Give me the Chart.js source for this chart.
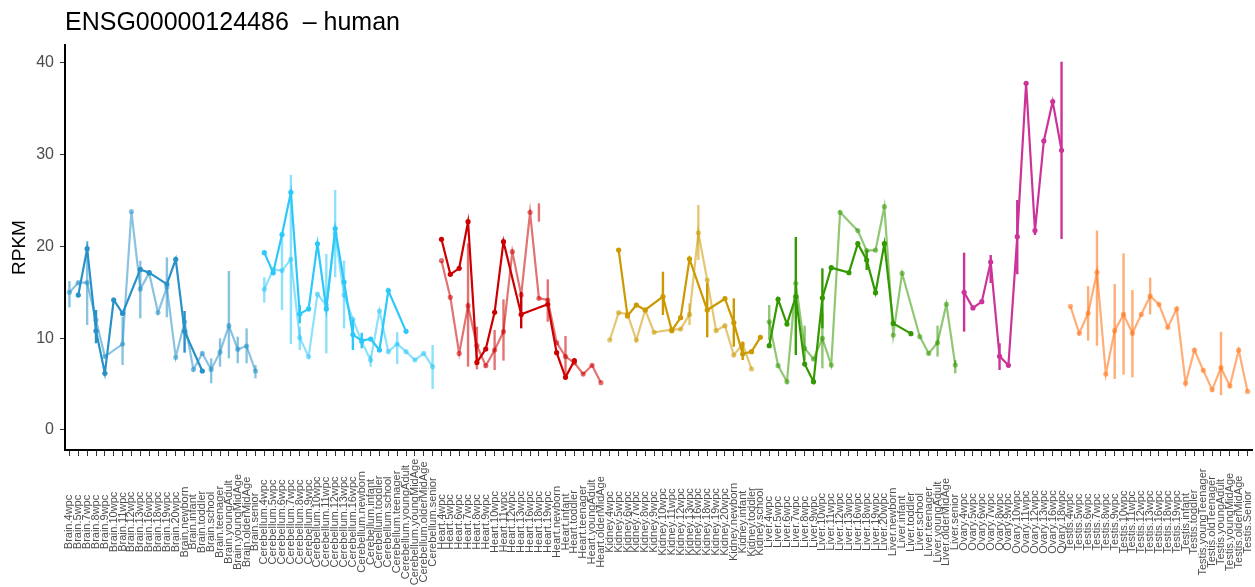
<!DOCTYPE html>
<html>
<head>
<meta charset="utf-8">
<script src="https://cdn.jsdelivr.net/npm/chart.js@4.4.1/dist/chart.umd.min.js"></script>
<style>
  html, body { margin: 0; padding: 0; background: #ffffff; }
  #wrap { width: 1255px; height: 587px; position: relative; }
</style>
</head>
<body>
<div id="wrap"><canvas id="chart"></canvas></div>
<script>
// ---- gene expression (RPKM) across developmental stages, per organ ----
const chartTitle = 'ENSG00000124486  \u2013 human';
const yTicks = [0, 10, 20, 30, 40];

const brainStages = ['4wpc','5wpc','7wpc','8wpc','9wpc','10wpc','11wpc','12wpc','13wpc','16wpc','18wpc','19wpc','20wpc','newborn','infant','toddler','school','teenager','youngAdult','youngMidAge','olderMidAge','senior'];
const brainRepA = [null, 14.7, 19.76, 10.8, 6.18, 14.17, 12.7, null, 17.5, 17.15, null, 15.9, 18.6, 10.75, null, 6.43, null, null, null, null, null, null];
const brainRepB = [15.0, 16.06, 16.06, 12.0, 8.0, null, 9.37, 23.8, 15.37, 17.1, 12.8, 15.55, 7.92, 11.8, 6.6, 8.35, 6.6, 8.48, 11.37, 8.8, 9.15, 6.43];
const brainErrA = [[3, 9.45, 13.08], [13, 8.43, 12.97]];
const brainErrB = [[0, 13.37, 16.24], [2, 11.44, 20.6], [6, 7.08, 12.35], [8, 12.17, 18.45], [11, 12.28, 18.82], [16, 5.09, 7.81], [17, 6.9, 9.99], [18, 7.81, 17.33], [19, 7.27, 10.17], [20, 7.27, 11.08], [21, 5.63, 7.08]];

const cerebellumStages = ['4wpc','5wpc','6wpc','7wpc','8wpc','9wpc','10wpc','11wpc','12wpc','13wpc','16wpc','newborn','infant','toddler','school','teenager','youngAdult','youngMidAge','olderMidAge','senior'];
const cerebellumRepA = [19.33, 17.15, 21.3, 25.9, 12.64, 13.2, 20.3, 13.2, 21.94, 16.13, 10.4, 9.74, 9.92, 8.72, 15.19, null, 10.75, null, null, null];
const cerebellumRepB = [15.33, 17.5, 17.37, 18.6, 10.06, 8.0, 14.8, 13.6, 21.4, 14.7, 12.06, 9.6, 7.63, 12.97, 8.54, 9.37, 8.54, 7.63, 8.35, 6.9];
const cerebellumErrA = [[4, 11.63, 13.62], [10, 8.72, 12.06], [11, 8.9, 10.6]];
const cerebellumErrB = [[0, 13.88, 16.64], [2, 13.08, 21.44], [3, 9.37, 27.8], [4, 8.72, 11.26], [7, 8.35, 19.18], [8, 16.64, 26.16], [9, 11.08, 18.45], [12, 6.9, 8.17], [15, 7.19, 10.65], [19, 4.47, 9.26]];

const heartStages = ['4wpc','5wpc','6wpc','7wpc','8wpc','9wpc','10wpc','11wpc','12wpc','13wpc','16wpc','18wpc','19wpc','newborn','infant','toddler','teenager','youngAdult','olderMidAge'];
const heartRepA = [20.78, 16.97, 17.62, 22.7, 7.37, 8.83, 12.83, 20.53, null, 12.6, null, null, 13.7, 8.43, 5.74, 7.56, null, null, null];
const heartRepB = [18.45, 14.46, 8.35, 13.55, 9.19, 7.01, 8.72, 10.72, 19.43, 14.7, 23.72, 14.35, 14.17, 9.52, 8.0, 7.33, 6.1, 7.05, 5.16];
const heartErrA = [[9, 11.08, 15.07]];
const heartErrB = [[3, 6.9, 20.35], [4, 6.61, 11.26], [6, 6.54, 10.9], [7, 7.56, 14.24], [11, 22.7, 24.7], [12, 11.8, 16.42], [14, 5.81, 10.24]];

const kidneyStages = ['4wpc','5wpc','6wpc','7wpc','8wpc','9wpc','10wpc','11wpc','12wpc','13wpc','16wpc','18wpc','19wpc','20wpc','newborn','infant','toddler','school'];
const kidneyRepA = [null, 19.62, 12.43, 13.62, 13.08, null, 14.53, 10.83, 12.24, 18.64, null, 13.08, null, 14.31, 11.7, 8.28, 8.54, 10.1];
const kidneyRepB = [9.81, 12.79, 12.64, 9.81, 13.08, 10.65, null, 10.94, 11.0, 12.6, 21.5, 16.35, 10.83, 11.37, 8.17, 9.37, 6.65, null];
const kidneyErrA = [[6, 12.53, 17.25], [11, 10.1, 16.05], [14, 9.08, 14.35], [15, 7.63, 9.63]];
const kidneyErrB = [[9, 11.44, 13.81], [10, 18.53, 24.52]];

const liverStages = ['4wpc','5wpc','6wpc','7wpc','8wpc','9wpc','10wpc','11wpc','12wpc','13wpc','16wpc','18wpc','19wpc','20wpc','newborn','infant','toddler','school','teenager','youngAdult','olderMidAge','senior'];
const liverRepA = [9.19, 14.24, 11.55, 14.53, 7.19, 5.27, 14.39, 17.69, null, 17.15, 20.31, 18.53, 14.97, 20.31, 11.62, null, 10.5, null, null, null, null, null];
const liverRepB = [11.8, 7.01, 5.27, 15.99, 8.9, 7.74, 9.99, 7.08, 23.72, null, 21.73, 19.54, 19.6, 24.34, 10.35, 17.08, null, 10.17, 8.35, 9.52, 13.7, 7.08];
const liverErrA = [[3, 8.17, 21.04], [6, 11.08, 17.62], [11, 17.44, 19.62]];
const liverErrB = [[0, 9.81, 13.62], [4, 7.63, 11.37], [6, 6.72, 12.72], [19, 8.0, 11.37], [21, 6.18, 7.63]];

const ovaryStages = ['4wpc','5wpc','6wpc','7wpc','8wpc','9wpc','10wpc','11wpc','12wpc','13wpc','16wpc','18wpc'];
const ovaryRepA = [15.0, 13.3, 13.99, 18.31, 8.03, 7.05, 21.07, 37.79, 21.73, 31.5, 35.79, 30.48];
const ovaryErrA = [[0, 10.72, 19.33], [3, 16.02, 19.07], [4, 6.54, 9.45], [6, 16.97, 25.07], [8, 21.25, 21.98], [11, 20.82, 40.14]];

const testisStages = ['4wpc','5wpc','6wpc','7wpc','8wpc','9wpc','10wpc','11wpc','12wpc','13wpc','16wpc','18wpc','19wpc','infant','toddler','youngTeenager','oldTeenager','youngAdult','youngMidAge','olderMidAge','Senior'];
const testisRepB = [13.48, 10.54, 12.72, 17.19, 6.1, 10.83, 12.6, 10.54, 12.6, 14.6, 13.7, 11.2, 13.2, 5.1, 8.7, 6.5, 4.4, 6.8, 4.8, 8.7, 4.2];
const testisErrB = [[2, 9.74, 15.69], [3, 9.19, 21.73], [5, 5.56, 15.91], [6, 6.03, 19.26], [7, 5.74, 15.26], [9, 12.6, 16.6], [17, 3.8, 10.7]];

// organ colours: full tone for one replicate, translucent tone for the other
const organs = [
  { name: 'Brain',      stages: brainStages,      rgb: '40,145,200', reps: [[brainRepB, brainErrB, 0.55], [brainRepA, brainErrA, 1]] },
  { name: 'Cerebellum', stages: cerebellumStages, rgb: '45,200,250', reps: [[cerebellumRepB, cerebellumErrB, 0.55], [cerebellumRepA, cerebellumErrA, 1]] },
  { name: 'Heart',      stages: heartStages,      rgb: '204,0,0',    reps: [[heartRepB, heartErrB, 0.55], [heartRepA, heartErrA, 1]] },
  { name: 'Kidney',     stages: kidneyStages,     rgb: '204,153,0',  reps: [[kidneyRepB, kidneyErrB, 0.55], [kidneyRepA, kidneyErrA, 1]] },
  { name: 'Liver',      stages: liverStages,      rgb: '51,153,0',   reps: [[liverRepB, liverErrB, 0.55], [liverRepA, liverErrA, 1]] },
  { name: 'Ovary',      stages: ovaryStages,      rgb: '204,51,153', reps: [[ovaryRepA, ovaryErrA, 1]] },
  { name: 'Testis',     stages: testisStages,     rgb: '255,120,30', reps: [[testisRepB, testisErrB, 0.6]] }
];

const labels = [];
const datasets = [];
organs.forEach(org => {
  const offset = labels.length;
  org.stages.forEach(s => labels.push(org.name + '.' + s));
  org.reps.forEach(([vals, errs, alpha]) => {
    const color = 'rgba(' + org.rgb + ',' + alpha + ')';
    datasets.push({ offset, vals, errs, color });
  });
});
const total = labels.length;
const chartDatasets = datasets.map(d => {
  const data = new Array(total).fill(null);
  d.vals.forEach((v, j) => { data[d.offset + j] = v; });
  return {
    data,
    errorBars: d.errs,
    offset: d.offset,
    borderColor: d.color,
    backgroundColor: d.color,
    borderWidth: 2.2,
    pointRadius: 2.6,
    pointBorderWidth: 0,
    pointHoverRadius: 2.6,
    spanGaps: true,
    tension: 0
  };
});

// vertical range bars for each replicate
const errorBarPlugin = {
  id: 'errorBars',
  beforeDatasetDraw(chart, args) {
    const ds = chart.data.datasets[args.index];
    if (!ds.errorBars) return;
    const { ctx } = chart;
    const x = chart.scales.x, y = chart.scales.y;
    ctx.save();
    ctx.strokeStyle = ds.borderColor;
    ctx.lineWidth = 2.4;
    ds.errorBars.forEach(([j, lo, hi]) => {
      const px = x.getPixelForValue(ds.offset + j);
      ctx.beginPath();
      ctx.moveTo(px, y.getPixelForValue(lo));
      ctx.lineTo(px, y.getPixelForValue(hi));
      ctx.stroke();
    });
    ctx.restore();
  }
};

// vertical category labels centred below the axis, plus the heading
const textPlugin = {
  id: 'texts',
  afterDraw(chart) {
    const { ctx } = chart;
    const x = chart.scales.x;
    ctx.save();
    ctx.fillStyle = '#4d4d4d';
    ctx.font = '11px "Liberation Sans", Arial, sans-serif';
    ctx.textAlign = 'center';
    ctx.textBaseline = 'middle';
    labels.forEach((lab, i) => {
      const px = x.getPixelForTick(i);
      ctx.save();
      ctx.translate(px, 522);
      ctx.rotate(-Math.PI / 2);
      ctx.fillText(lab, 0, 0);
      ctx.restore();
    });
    ctx.fillStyle = '#000000';
    ctx.font = '25px "Liberation Sans", Arial, sans-serif';
    ctx.textAlign = 'left';
    ctx.textBaseline = 'alphabetic';
    ctx.fillText(chartTitle, chart.chartArea.left, 30);
    ctx.restore();
  }
};

new Chart(document.getElementById('chart'), {
  type: 'line',
  data: { labels, datasets: chartDatasets },
  plugins: [errorBarPlugin, textPlugin],
  options: {
    responsive: true,
    maintainAspectRatio: false,
    animation: false,
    events: [],
    layout: { padding: { top: 45, right: 3, left: 0, bottom: 0 } },
    plugins: { legend: { display: false }, tooltip: { enabled: false }, title: { display: false } },
    scales: {
      x: {
        type: 'category',
        offset: true,
        grid: { drawOnChartArea: false, drawTicks: true, tickLength: 6, color: '#333333', lineWidth: 1 },
        border: { display: true, color: '#000000', width: 2 },
        ticks: { display: false, autoSkip: false },
        afterFit(scale) { scale.height = 137; }
      },
      y: {
        min: -2.18,
        max: 41.96,
        grid: { drawOnChartArea: false, drawTicks: true, tickLength: 5, color: '#333333', lineWidth: 1 },
        border: { display: true, color: '#000000', width: 2 },
        ticks: { color: '#4d4d4d', font: { size: 16, family: '"Liberation Sans", Arial, sans-serif' }, padding: 6 },
        afterBuildTicks(scale) { scale.ticks = yTicks.map(v => ({ value: v })); },
        title: { display: true, text: 'RPKM', color: '#000000', font: { size: 19, family: '"Liberation Sans", Arial, sans-serif' }, padding: { top: 8, bottom: 0 } },
        afterFit(scale) { scale.width = 65; }
      }
    }
  }
});
</script>
</body>
</html>
